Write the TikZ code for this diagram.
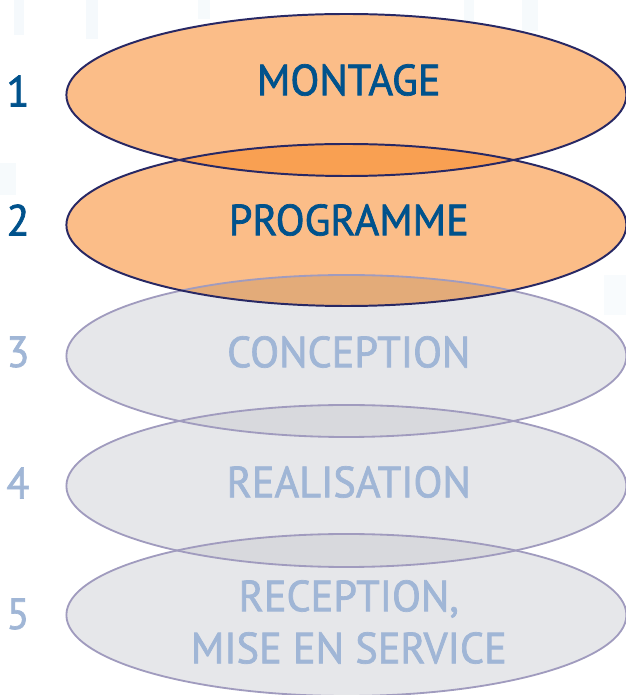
\documentclass[tikz,border=0pt]{standalone}
\usepackage{fontspec}
\setmainfont{PT Sans}[FakeStretch=0.97, FakeBold=1.6]
\definecolor{orangefill}{RGB}{251,189,136}
\definecolor{orangelens}{RGB}{249,160,82}
\definecolor{mixlens}{RGB}{227,171,121}
\definecolor{grayfill}{RGB}{230,231,234}
\definecolor{graylens}{RGB}{216,217,221}
\definecolor{navyline}{RGB}{40,40,100}
\definecolor{grayline}{RGB}{160,155,190}
\definecolor{darkblue}{RGB}{0,82,140}
\definecolor{paleblue}{RGB}{160,182,214}
\definecolor{smudge}{RGB}{226,238,246}
\tikzset{
	stage/.style={font=\fontsize{31}{37}\selectfont, align=center, inner sep=0pt},
	done/.style={stage, text=darkblue},
	todo/.style={stage, text=paleblue},
	donering/.style={draw=navyline, line width=1.4pt},
	todoring/.style={draw=grayline, line width=1.3pt}
}
\begin{document}
\begin{tikzpicture}
	\useasboundingbox (0,0) rectangle (15.65,17.375);
	% faint background
	\fill[smudge,opacity=0.35] (0.35,16.5) rectangle (0.6,17.375);
	\fill[smudge,opacity=0.35] (2.15,16.4) rectangle (2.45,17.375);
	\fill[smudge,opacity=0.3] (4.95,16.9) rectangle (5.25,17.375);
	\fill[smudge,opacity=0.3] (11.6,16.8) rectangle (11.85,17.375);
	\fill[smudge,opacity=0.3] (13.05,16.6) rectangle (13.45,17.375);
	\fill[smudge,opacity=0.3] (0.0,12.5) rectangle (0.4,13.3);
	\fill[smudge,opacity=0.25] (15.1,9.5) rectangle (15.65,10.5);
	% centres
	\coordinate (E1) at (8.66,15.0);
	\coordinate (E2) at (8.66,11.75);
	\coordinate (E3) at (8.66,8.475);
	\coordinate (E4) at (8.66,5.225);
	\coordinate (E5) at (8.66,2.0);
	% fills
	\fill[grayfill] (E5) ellipse (7 and 2.025);
	\fill[grayfill] (E4) ellipse (7 and 2.025);
	\fill[grayfill] (E3) ellipse (7 and 2.025);
	\fill[orangefill] (E2) ellipse (7 and 2.025);
	\fill[orangefill] (E1) ellipse (7 and 2.025);
	% overlaps
	\begin{scope}
		\clip (E1) ellipse (7 and 2.025);
		\fill[orangelens] (E2) ellipse (7 and 2.025);
	\end{scope}
	\begin{scope}
		\clip (E2) ellipse (7 and 2.025);
		\fill[mixlens] (E3) ellipse (7 and 2.025);
	\end{scope}
	\begin{scope}
		\clip (E3) ellipse (7 and 2.025);
		\fill[graylens] (E4) ellipse (7 and 2.025);
	\end{scope}
	\begin{scope}
		\clip (E4) ellipse (7 and 2.025);
		\fill[graylens] (E5) ellipse (7 and 2.025);
	\end{scope}
	% outlines
	\draw[todoring] (E5) ellipse (7 and 2.025);
	\draw[todoring] (E4) ellipse (7 and 2.025);
	\draw[todoring] (E3) ellipse (7 and 2.025);
	\draw[donering] (E2) ellipse (7 and 2.025);
	\draw[donering] (E1) ellipse (7 and 2.025);
	% labels
	\node[done] (montage) at (8.72,15.375) {MONTAGE};
	\node[done] (programme) at (8.72,11.875) {PROGRAMME};
	\node[todo] (conception) at (8.72,8.575) {CONCEPTION};
	\node[todo] (realisation) at (8.72,5.325) {REALISATION};
	\node[todo] (reception) at (8.72,1.825) {RECEPTION,\\MISE EN SERVICE};
	% numbers
	\node[done] (n1) at (0.45,15.1) {1};
	\node[done] (n2) at (0.45,11.875) {2};
	\node[todo] (n3) at (0.45,8.575) {3};
	\node[todo] (n4) at (0.45,5.3) {4};
	\node[todo] (n5) at (0.45,2.025) {5};
\end{tikzpicture}
\end{document}
